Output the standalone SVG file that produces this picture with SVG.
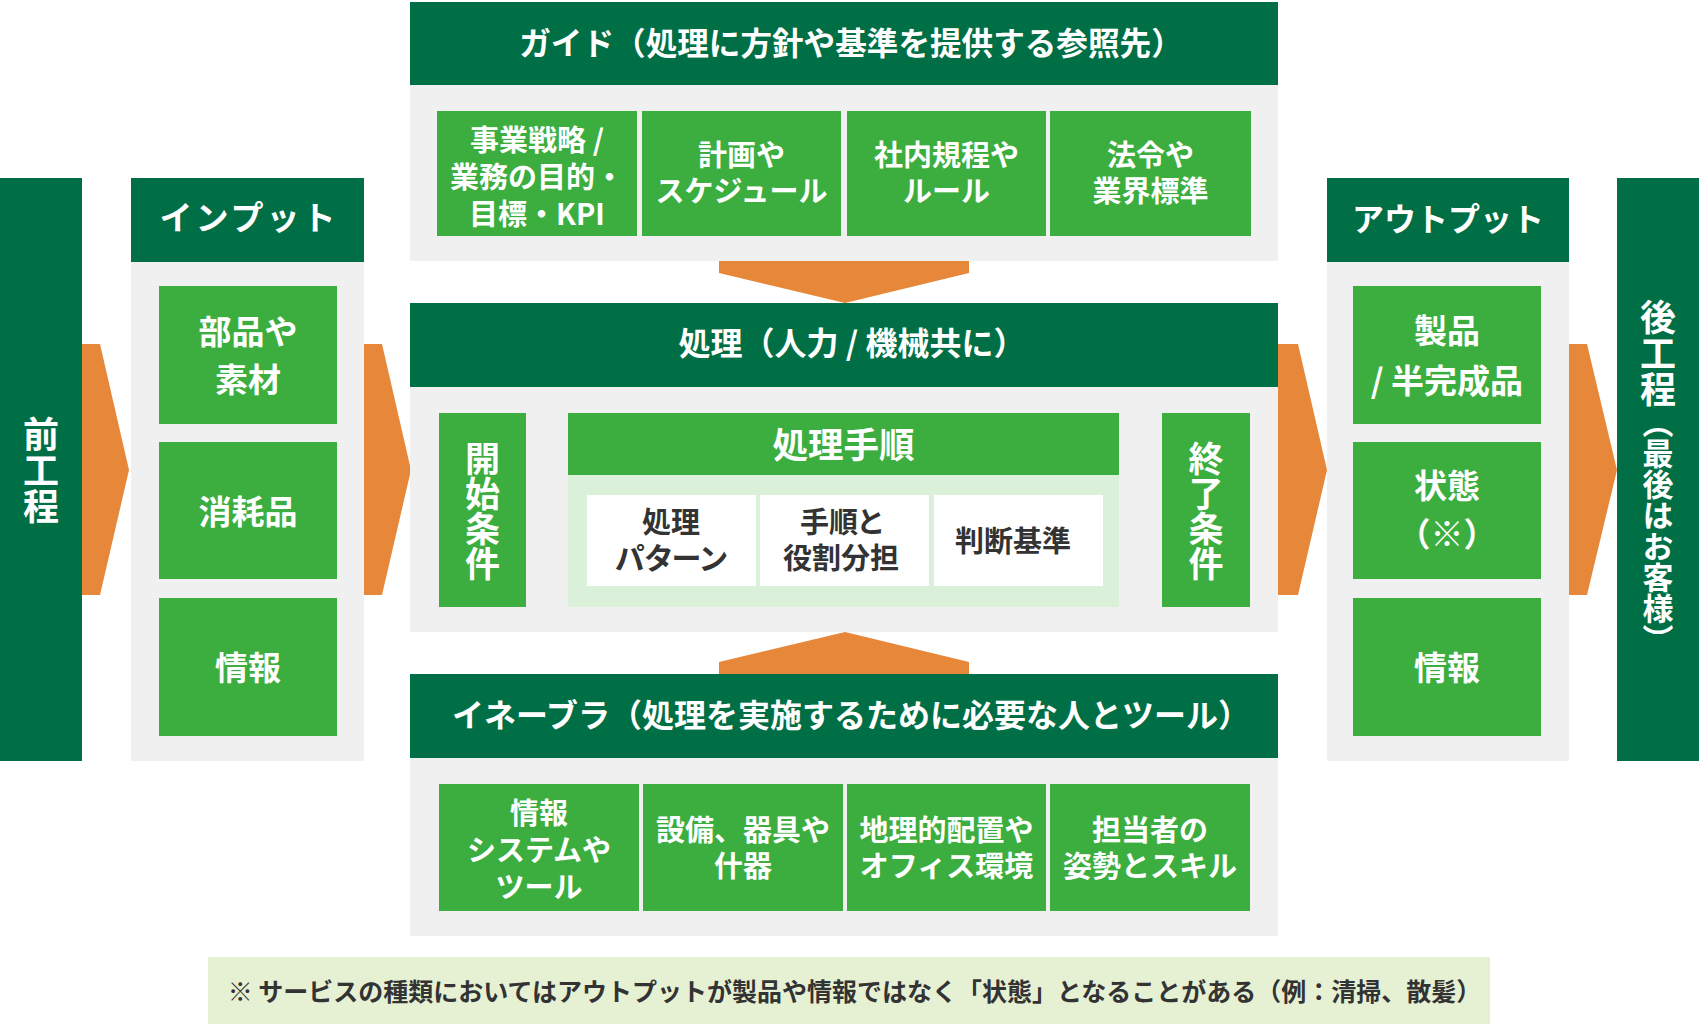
<svg xmlns="http://www.w3.org/2000/svg" width="1699" height="1024" viewBox="0 0 1699 1024">
<style>
text{font-family:"Noto Sans CJK JP","Noto Sans CJK SC",sans-serif;font-weight:700;}
.dk{fill:#006f45}
.gr{fill:#3cae40}
.pn{fill:#f0f0f0}
.or{fill:#e6873a}
.w{fill:#fff;text-anchor:middle}
.d{fill:#333;text-anchor:middle;font-size:29px;font-feature-settings:"palt"}
.h{font-size:32px}
.it{font-size:33px}
.sm{font-size:29px}
.v{writing-mode:vertical-rl;text-anchor:start}
</style>
<rect width="1699" height="1024" fill="#fff"/>

<g id="connectors">
<polygon class="or" points="82,344 100,344 129,470 100,595 82,595"/>
<polygon class="or" points="364,344 382,344 411,470 382,595 364,595"/>
<polygon class="or" points="1278,344 1298,344 1327,470 1298,595 1278,595"/>
<polygon class="or" points="1569,344 1587,344 1617,470 1587,595 1569,595"/>
<polygon class="or" points="719,261 969,261 969,273 845,303 719,273"/>
<polygon class="or" points="719,674 969,674 969,662 845,632 719,662"/>
<polygon fill="#666" points="526,500 548,500 548,488 568,505 548,522 548,510 526,510"/>
<polygon fill="#666" points="1119,500 1142,500 1142,488 1162,505 1142,522 1142,510 1119,510"/>
</g>

<g id="mae">
<rect class="dk" x="0" y="178" width="82" height="583"/>
<text class="w v" x="41" y="416" style="font-size:36px">前工程</text>
</g>

<g id="input">
<rect class="pn" x="131" y="262" width="233" height="499"/>
<rect class="dk" x="131" y="178" width="233" height="84"/>
<text class="w" x="249" y="230" letter-spacing="3" style="font-size:33px">インプット</text>
<rect class="gr" x="159" y="286" width="178" height="138"/>
<text class="w it" x="248" y="344">部品や<tspan x="248" dy="48">素材</tspan></text>
<rect class="gr" x="159" y="442" width="178" height="137"/>
<text class="w it" x="248" y="524">消耗品</text>
<rect class="gr" x="159" y="598" width="178" height="138"/>
<text class="w it" x="248" y="680">情報</text>
</g>

<g id="guide">
<rect class="pn" x="410" y="85" width="868" height="176"/>
<rect class="dk" x="410" y="2" width="868" height="83"/>
<text class="w" x="851" y="55" style="font-size:31.6px">ガイド（処理に方針や基準を提供する参照先）</text>
<rect class="gr" x="437" y="111" width="200" height="125"/>
<text class="w sm" x="537" y="151">事業戦略 /<tspan x="537" dy="37">業務の目的・</tspan><tspan x="537" dy="37">目標・KPI</tspan></text>
<rect class="gr" x="642" y="111" width="199" height="125"/>
<text class="w sm" x="741.5" y="166">計画や<tspan x="741.5" dy="36">スケジュール</tspan></text>
<rect class="gr" x="847" y="111" width="199" height="125"/>
<text class="w sm" x="946.5" y="166">社内規程や<tspan x="946.5" dy="36">ルール</tspan></text>
<rect class="gr" x="1050" y="111" width="201" height="125"/>
<text class="w sm" x="1150.5" y="166">法令や<tspan x="1150.5" dy="36">業界標準</tspan></text>
</g>

<g id="process">
<rect class="pn" x="410" y="387" width="868" height="245"/>
<rect class="dk" x="410" y="303" width="868" height="84"/>
<text class="w h" x="852" y="355">処理（人力 / 機械共に）</text>
<g id="start">
<rect class="gr" x="439" y="413" width="87" height="194"/>
<text class="w v" x="482.5" y="441" style="font-size:35px">開始条件</text>
</g>
<g id="procedure">
<rect fill="#daf0d9" x="568" y="475" width="551" height="132"/>
<rect class="gr" x="568" y="413" width="551" height="62"/>
<text class="w" x="843.5" y="458" style="font-size:35.5px">処理手順</text>
<rect fill="#fff" x="587" y="495" width="169" height="91"/>
<text class="d" x="671" y="533">処理<tspan x="671" dy="36" style="font-size:30px">パターン</tspan></text>
<rect fill="#fff" x="760" y="495" width="169" height="91"/>
<text class="d" x="841" y="533">手順と<tspan x="841" dy="36">役割分担</tspan></text>
<rect fill="#fff" x="934" y="495" width="169" height="91"/>
<text class="d" x="1013" y="552">判断基準</text>
</g>
<g id="end">
<rect class="gr" x="1162" y="413" width="88" height="194"/>
<text class="w v" x="1206" y="441" style="font-size:35px">終了条件</text>
</g>
</g>

<g id="enabler">
<rect class="pn" x="410" y="758" width="868" height="178"/>
<rect class="dk" x="410" y="674" width="868" height="84"/>
<text class="w h" x="851" y="727">イネーブラ（処理を実施するために必要な人とツール）</text>
<rect class="gr" x="439" y="784" width="200" height="127"/>
<text class="w sm" x="539" y="824">情報<tspan x="539" dy="37">システムや</tspan><tspan x="539" dy="37">ツール</tspan></text>
<rect class="gr" x="643" y="784" width="200" height="127"/>
<text class="w sm" x="743" y="841">設備、器具や<tspan x="743" dy="36">什器</tspan></text>
<rect class="gr" x="847" y="784" width="199" height="127"/>
<text class="w sm" x="946.5" y="841">地理的配置や<tspan x="946.5" dy="36">オフィス環境</tspan></text>
<rect class="gr" x="1050" y="784" width="200" height="127"/>
<text class="w sm" x="1150" y="841">担当者の<tspan x="1150" dy="36">姿勢とスキル</tspan></text>
</g>

<g id="output">
<rect class="pn" x="1327" y="262" width="242" height="499"/>
<rect class="dk" x="1327" y="178" width="242" height="84"/>
<text class="w" x="1448" y="231" style="font-size:32px">アウトプット</text>
<rect class="gr" x="1353" y="286" width="188" height="138"/>
<text class="w it" x="1447" y="343">製品<tspan x="1447" dy="50">/ 半完成品</tspan></text>
<rect class="gr" x="1353" y="442" width="188" height="137"/>
<text class="w it" x="1447" y="498">状態<tspan x="1447" dy="48">（※）</tspan></text>
<rect class="gr" x="1353" y="598" width="188" height="138"/>
<text class="w it" x="1447" y="680">情報</text>
</g>

<g id="ato">
<rect class="dk" x="1617" y="178" width="82" height="583"/>
<text class="w v" x="1658" y="299" style="font-size:36px">後工程</text>
<text class="w v" x="1658" y="407" style="font-size:31px">（最後はお客様）</text>
</g>

<g id="note">
<rect fill="#e6f0d3" x="208" y="957" width="1282" height="67"/>
<text x="854.5" y="1001" style="font-size:25px;fill:#333;text-anchor:middle">※ サービスの種類においてはアウトプットが製品や情報ではなく「状態」となることがある（例：清掃、散髪）</text>
</g>
</svg>
